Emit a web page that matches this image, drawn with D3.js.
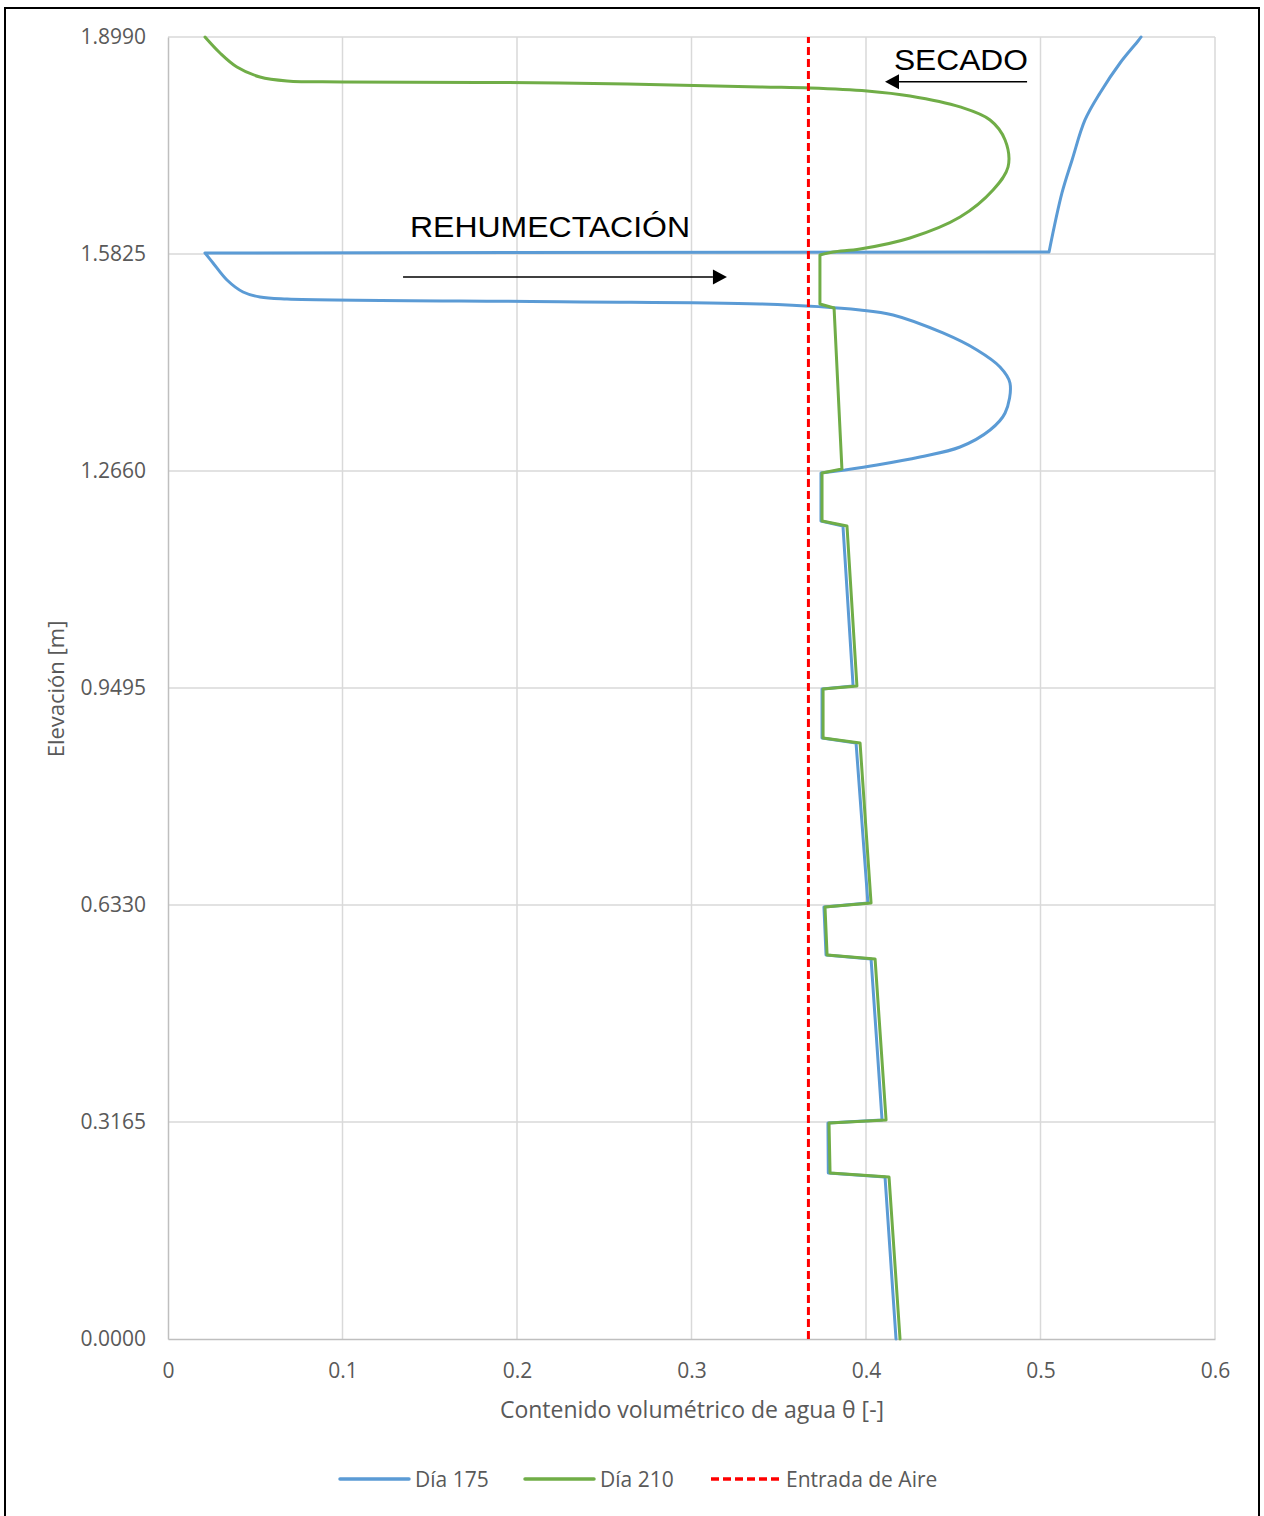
<!DOCTYPE html>
<html>
<head>
<meta charset="utf-8">
<script src="https://cdn.jsdelivr.net/npm/d3@7"></script>
<style>
  html, body { margin: 0; padding: 0; background: #fff; }
  svg { display: block; }
  text { font-family: "Open Sans", "Noto Sans", sans-serif; fill: #595959; }
</style>
</head>
<body>
<svg id="chart" width="1264" height="1516"></svg>
<script>
// ---------- DATA ----------
const xTicks = [0, 0.1, 0.2, 0.3, 0.4, 0.5, 0.6];
const yTicks = [0, 0.3165, 0.633, 0.9495, 1.266, 1.5825, 1.899];
const seriesNames = ["Día 175", "Día 210", "Entrada de Aire"];

// [theta, elevation] pairs, ordered along the profile (bottom to top)
const dia175 = [
  [0.4172, 0.0000], [0.4109, 0.2363], [0.3784, 0.2421], [0.3782, 0.3151],
  [0.4092, 0.3194], [0.4029, 0.5543], [0.3771, 0.5601], [0.3759, 0.6301],
  [0.4011, 0.6359], [0.3943, 0.8693], [0.3748, 0.8766], [0.3748, 0.9481],
  [0.3926, 0.9524], [0.3868, 1.1858], [0.3742, 1.1931], [0.3742, 1.2631],
  [0.3880, 1.2675], [0.4063, 1.2748], [0.4309, 1.2865], [0.4539, 1.3010],
  [0.4711, 1.3258], [0.4797, 1.3506], [0.4825, 1.3944],
  [0.4768, 1.4177], [0.4636, 1.4425], [0.4441, 1.4673], [0.4155, 1.4936],
  [0.3966, 1.5009], [0.3393, 1.5096], [0.2246, 1.5129], [0.0682, 1.5169],
  [0.0527, 1.5198], [0.0430, 1.5271], [0.0338, 1.5446], [0.0258, 1.5694],
  [0.0212, 1.5840], [0.5049, 1.5855], [0.5123, 1.6715], [0.5181, 1.7197],
  [0.5255, 1.7780], [0.5341, 1.8174], [0.5456, 1.8611], [0.5559, 1.8932],
  [0.5576, 1.8990]
];
const dia210 = [
  [0.4195, 0.0000], [0.4132, 0.2363], [0.3794, 0.2421], [0.3788, 0.3151],
  [0.4115, 0.3194], [0.4052, 0.5543], [0.3777, 0.5601], [0.3765, 0.6301],
  [0.4029, 0.6359], [0.3966, 0.8693], [0.3754, 0.8766], [0.3754, 0.9481],
  [0.3948, 0.9524], [0.3891, 1.1858], [0.3748, 1.1931], [0.3748, 1.2631],
  [0.3862, 1.2690], [0.3817, 1.5038], [0.3736, 1.5096], [0.3736, 1.5811],
  [0.3811, 1.5855], [0.3966, 1.5898], [0.4252, 1.6059], [0.4539, 1.6365],
  [0.4728, 1.6759], [0.4814, 1.7094],
  [0.4797, 1.7488], [0.4711, 1.7780], [0.4539, 1.7970], [0.4252, 1.8130],
  [0.4006, 1.8203], [0.3679, 1.8247], [0.3393, 1.8261], [0.2246, 1.8320],
  [0.1003, 1.8334], [0.0682, 1.8349], [0.0527, 1.8407], [0.0395, 1.8553],
  [0.0298, 1.8757], [0.0212, 1.8990]
];
const airEntry = [[0.367, 0], [0.367, 1.899]];
// [startIndex, endIndex, smooth?] pieces of each profile (steps are straight, bulges are smooth)
const dia175Pieces = [[0, 16, false], [16, 35, true], [35, 36, false], [36, 43, true]];
const dia210Pieces = [[0, 19, false], [19, 39, true]];

// annotations: label, text anchor [theta, elev], arrow from / to [theta, elev]
const annotations = [
  { label: "SECADO", at: [0.416, 1.851], from: [0.4923, 1.8339], to: [0.4109, 1.8339] },
  { label: "REHUMECTACIÓN", at: [0.1387, 1.6074], from: [0.1347, 1.549], to: [0.3203, 1.549] }
];

// ---------- DRAW ----------
const svg = d3.select("#chart");
const x = d3.scaleLinear().domain([0, 0.6]).range([168, 1215]);
const y = d3.scaleLinear().domain([0, 1.899]).range([1339, 37]);

// outer border
svg.append("rect").attr("x", 5).attr("y", 8).attr("width", 1254).attr("height", 1530)
  .attr("fill", "none").attr("stroke", "#000").attr("stroke-width", 2);

// gridlines
svg.append("g").selectAll("line").data(xTicks.slice(1)).join("line")
  .attr("x1", d => x(d)).attr("x2", d => x(d)).attr("y1", y(0)).attr("y2", y(1.899))
  .attr("stroke", "#d9d9d9").attr("stroke-width", 1.5);
svg.append("g").selectAll("line").data(yTicks.slice(1)).join("line")
  .attr("x1", x(0)).attr("x2", x(0.6)).attr("y1", d => y(d)).attr("y2", d => y(d))
  .attr("stroke", "#d9d9d9").attr("stroke-width", 1.5);

// axes
const xAxis = svg.append("g").attr("transform", `translate(0,${y(0)})`)
  .call(d3.axisBottom(x).tickValues(xTicks).tickSize(0).tickPadding(0).tickFormat(d3.format("")));
xAxis.select(".domain").attr("stroke", "#bfbfbf").attr("stroke-width", 1.5);
xAxis.selectAll("text").attr("dy", null).attr("y", 39).style("font-size", "21px")
  .style("font-family", "'Open Sans', sans-serif").attr("fill", "#595959");

const yAxis = svg.append("g").attr("transform", `translate(${x(0)},0)`)
  .call(d3.axisLeft(y).tickValues(yTicks).tickSize(0).tickPadding(22).tickFormat(d3.format(".4f")));
yAxis.select(".domain").attr("stroke", "#bfbfbf").attr("stroke-width", 1.5);
yAxis.selectAll("text").style("font-size", "21px")
  .style("font-family", "'Open Sans', sans-serif").attr("fill", "#595959");

// axis titles
svg.append("text").attr("x", 692).attr("y", 1418).attr("text-anchor", "middle")
  .style("font-size", "23px").text("Contenido volumétrico de agua θ [-]");
svg.append("text").attr("transform", "translate(64,689) rotate(-90)").attr("text-anchor", "middle")
  .style("font-size", "22px").text("Elevación [m]");

// series
const lineLin = d3.line().x(d => x(d[0])).y(d => y(d[1]));
const lineSmooth = d3.line().x(d => x(d[0])).y(d => y(d[1])).curve(d3.curveCatmullRom.alpha(0.5));
function profilePath(data, pieces) {
  let p = "";
  pieces.forEach(([s, e, smooth], i) => {
    const seg = (smooth ? lineSmooth : lineLin)(data.slice(s, e + 1));
    p += i === 0 ? seg : "L" + seg.slice(1);
  });
  return p;
}
svg.append("path").attr("d", profilePath(dia175, dia175Pieces)).attr("fill", "none")
  .attr("stroke", "#5b9bd5").attr("stroke-width", 3).attr("stroke-linejoin", "round").attr("stroke-linecap", "round");
svg.append("path").attr("d", profilePath(dia210, dia210Pieces)).attr("fill", "none")
  .attr("stroke", "#70ad47").attr("stroke-width", 3).attr("stroke-linejoin", "round").attr("stroke-linecap", "round");
svg.append("path").datum(airEntry).attr("d", lineLin).attr("fill", "none")
  .attr("stroke", "#ff0000").attr("stroke-width", 3).attr("stroke-dasharray", "8,4");

// annotations
const ann = svg.append("g");
annotations.forEach((a, i) => {
  ann.append("text").attr("x", x(a.at[0])).attr("y", y(a.at[1]))
    .style("font-family", "'Liberation Sans', Arial, sans-serif").style("font-size", "29px")
    .style("fill", "#000")
    .attr("textLength", i === 0 ? 134 : 280).attr("lengthAdjust", "spacingAndGlyphs")
    .text(a.label);
  const x1 = x(a.from[0]), x2 = x(a.to[0]), yy = y(a.from[1]);
  const dir = Math.sign(x2 - x1);
  const head = 14;
  ann.append("line").attr("x1", x1).attr("x2", x2 - dir * head).attr("y1", yy).attr("y2", yy)
    .attr("stroke", "#000").attr("stroke-width", 1.5);
  ann.append("path")
    .attr("d", `M${x2},${yy} L${x2 - dir * head},${yy - 7.5} L${x2 - dir * head},${yy + 7.5} Z`)
    .attr("fill", "#000");
});

// legend
const legendItems = [
  { name: seriesNames[0], color: "#5b9bd5", dash: null, x0: 340 },
  { name: seriesNames[1], color: "#70ad47", dash: null, x0: 525 },
  { name: seriesNames[2], color: "#ff0000", dash: "8,4", x0: 711 }
];
const lg = svg.append("g");
legendItems.forEach(it => {
  lg.append("line").attr("x1", it.x0).attr("x2", it.x0 + 69).attr("y1", 1479).attr("y2", 1479)
    .attr("stroke", it.color).attr("stroke-width", 3.5)
    .attr("stroke-dasharray", it.dash).attr("stroke-linecap", it.dash ? "butt" : "round");
  lg.append("text").attr("x", it.x0 + 75).attr("y", 1487).style("font-size", "21px").text(it.name);
});
</script>
</body>
</html>
